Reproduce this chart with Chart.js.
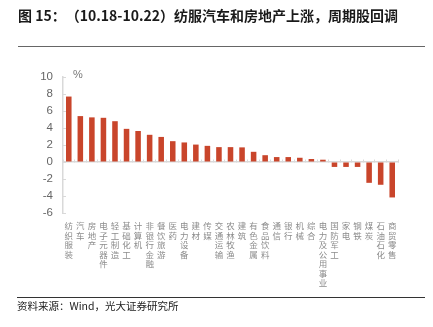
<!DOCTYPE html>
<html lang="zh">
<head>
    <meta charset="UTF-8">
    <title>纺服汽车和房地产上涨，周期股回调</title>
    <script src="https://cdn.jsdelivr.net/npm/chart.js"></script>
    <style>
        body {
            margin: 0;
            background: #fff;
            font-family: "Noto Sans CJK SC", sans-serif;
            text-spacing-trim: space-all;
        }
        .page {
            position: relative;
            width: 433px;
            height: 327px;
            overflow: hidden;
        }
        .chart-box {
            position: absolute;
            left: 0;
            top: 0;
            width: 433px;
            height: 327px;
        }
        .title {
            position: absolute;
            left: 18px;
            top: 5px;
            font-size: 14px;
            font-weight: bold;
            color: #1a1a1a;
            white-space: nowrap;
        }
        .rule-top {
            position: absolute;
            left: 18px;
            top: 46px;
            width: 407px;
            border-top: 1px solid #666;
        }
        .rule-bottom {
            position: absolute;
            left: 17px;
            top: 297px;
            width: 408px;
            border-top: 1px solid #333;
        }
        .source {
            position: absolute;
            left: 17px;
            top: 298px;
            font-size: 10.5px;
            color: #222;
            white-space: nowrap;
        }
        .unit {
            position: absolute;
            left: 73px;
            top: 68px;
            font-family: "Liberation Sans", Arial, sans-serif;
            font-size: 11px;
            color: #777;
        }
    </style>
</head>
<body>
<div class="page">
    <div class="chart-box"><canvas id="weeklyChart"></canvas></div>
    <div class="title">图 15：（10.18-10.22）纺服汽车和房地产上涨，周期股回调</div>
    <div class="rule-top"></div>
    <div class="unit">%</div>
    <div class="rule-bottom"></div>
    <div class="source">资料来源：Wind，光大证券研究所</div>
</div>
<script>
    // 申万行业周涨跌幅
    const industries = ['纺织服装', '汽车', '房地产', '电子元器件', '轻工制造', '基础化工', '计算机',
        '非银行金融', '餐饮旅游', '医药', '电力设备', '建材', '传媒', '交通运输', '农林牧渔', '建筑',
        '有色金属', '食品饮料', '通信', '银行', '机械', '综合', '电力及公用事业', '国防军工', '家电',
        '钢铁', '煤炭', '石油石化', '商贸零售'];
    const weeklyChange = [7.7, 5.4, 5.25, 5.2, 4.8, 3.9, 3.65, 3.2, 2.95, 2.45, 2.3, 2.05, 1.9, 1.75,
        1.75, 1.72, 1.2, 0.8, 0.58, 0.58, 0.5, 0.35, 0.27, -0.58, -0.58, -0.58, -2.45, -2.68, -4.17];
    const yTicks = [-6, -4, -2, 0, 2, 4, 6, 8, 10];

    const axisGrey = '#d9d9d9';

    new Chart(document.getElementById('weeklyChart'), {
        type: 'bar',
        data: {
            labels: industries,
            datasets: [{
                data: weeklyChange,
                backgroundColor: '#c9452b',
                barPercentage: 0.48,
                categoryPercentage: 1
            }]
        },
        options: {
            responsive: true,
            maintainAspectRatio: false,
            animation: false,
            layout: {
                padding: { left: 0, right: 35, top: 77, bottom: 34 }
            },
            plugins: {
                legend: { display: false },
                tooltip: { enabled: false }
            },
            scales: {
                x: {
                    position: 'bottom',
                    grid: { display: false },
                    border: { display: false },
                    ticks: {
                        autoSkip: false,
                        maxRotation: 0,
                        minRotation: 0,
                        padding: 0,
                        color: '#8c8c8c',
                        font: { family: '"Noto Sans CJK SC"', size: 8.5, lineHeight: 1.12 },
                        // 竖排：每个字一行
                        callback: function (value) {
                            return Array.from(this.getLabelForValue(value));
                        }
                    },
                    afterFit: scale => { scale.height = 80; }
                },
                x2: {
                    type: 'category',
                    labels: industries,
                    position: { y: 0 },
                    offset: true,
                    grid: {
                        drawOnChartArea: false,
                        offset: true,
                        tickLength: -3,
                        color: axisGrey
                    },
                    border: { color: axisGrey, width: 1.5 },
                    ticks: { display: false }
                },
                y: {
                    min: yTicks[0],
                    max: yTicks[yTicks.length - 1],
                    afterBuildTicks: scale => {
                        scale.ticks = yTicks.map(v => ({ value: v }));
                    },
                    grid: {
                        drawOnChartArea: false,
                        tickLength: -3,
                        color: axisGrey
                    },
                    border: { color: axisGrey, width: 1.5 },
                    ticks: {
                        padding: 13,
                        color: '#666',
                        font: { family: '"Liberation Sans", Arial, sans-serif', size: 11.5 }
                    },
                    afterFit: scale => { scale.width = 63; }
                }
            }
        }
    });
</script>
</body>
</html>
